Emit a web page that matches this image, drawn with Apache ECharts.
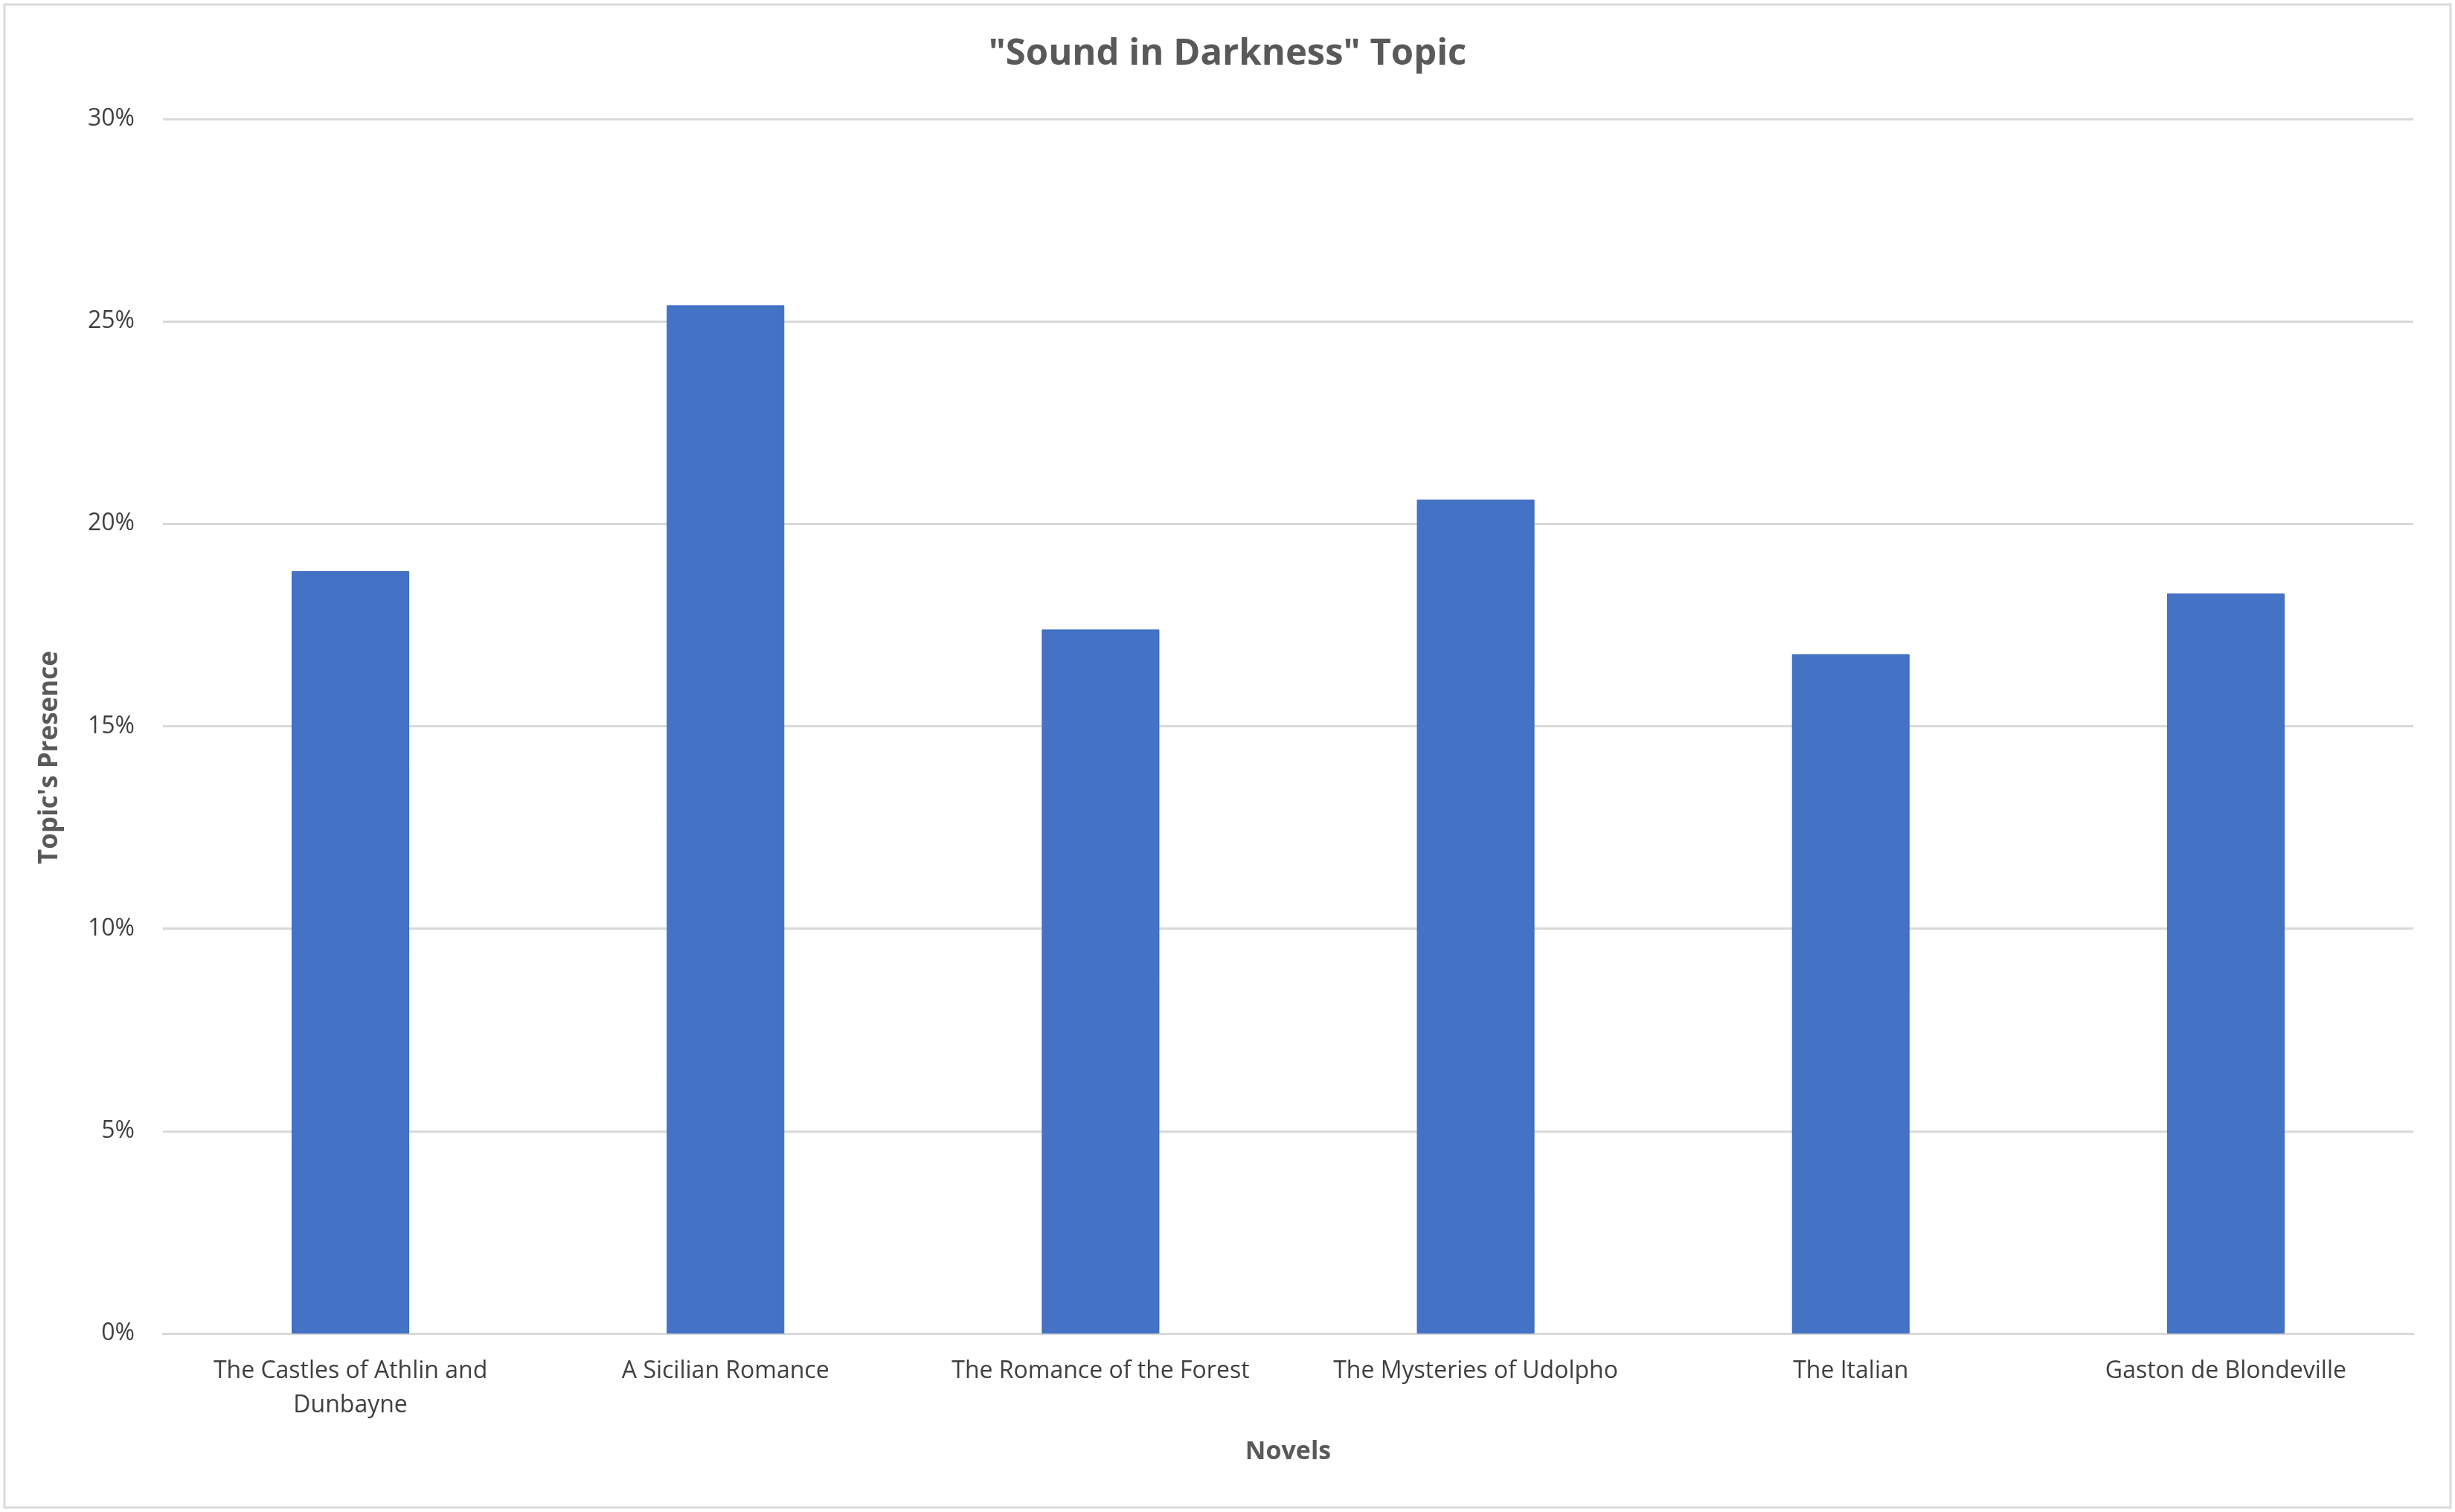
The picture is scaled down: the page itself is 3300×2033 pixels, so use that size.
<!DOCTYPE html>
<html>
<head>
<meta charset="utf-8">
<script src="https://cdn.jsdelivr.net/npm/echarts@6/dist/echarts.min.js"></script>
<style>
  html, body { margin: 0; padding: 0; background: #ffffff; }
  #chart { width: 3300px; height: 2033px; }
</style>
</head>
<body>
<div id="chart"></div>
<script>
// 小说名称
var novels = [
  'The Castles of Athlin and\nDunbayne',
  'A Sicilian Romance',
  'The Romance of the Forest',
  'The Mysteries of Udolpho',
  'The Italian',
  'Gaston de Blondeville'
];
// 主题占比 (%)
var presence = [18.83, 25.40, 17.39, 20.60, 16.78, 18.28];
// y轴刻度
var yTicks = [0, 5, 10, 15, 20, 25, 30];

var font = 'Open Sans';
var grey = '#595959';

var chart = echarts.init(document.getElementById('chart'), null, { renderer: 'canvas' });

var option = {
  backgroundColor: '#ffffff',
  animation: false,
  title: {
    text: '"Sound in Darkness" Topic',
    left: 'center',
    top: 44,
    textStyle: {
      color: grey,
      fontFamily: font,
      fontSize: 49,
      fontWeight: 'bold'
    }
  },
  // 图表外框
  graphic: [{
    type: 'rect',
    shape: { x: 6, y: 6, width: 3288, height: 2021 },
    style: { fill: 'none', stroke: '#d9d9d9', lineWidth: 3 },
    silent: true
  }],
  grid: {
    left: 219,
    right: 56,
    top: 160,
    bottom: 240
  },
  xAxis: {
    type: 'category',
    data: novels,
    name: 'Novels',
    nameLocation: 'middle',
    nameGap: 142,
    nameTextStyle: {
      color: grey,
      fontFamily: font,
      fontSize: 34,
      fontWeight: 'bold'
    },
    axisLine: { lineStyle: { color: '#d9d9d9', width: 3 } },
    axisTick: { show: false },
    axisLabel: {
      color: '#404040',
      fontFamily: font,
      fontSize: 32,
      lineHeight: 46,
      margin: 28,
      interval: 0
    }
  },
  yAxis: {
    type: 'value',
    min: yTicks[0],
    max: yTicks[yTicks.length - 1],
    interval: 5,
    name: "Topic's Presence",
    nameLocation: 'middle',
    nameRotate: 90,
    nameGap: 134,
    nameTextStyle: {
      color: grey,
      fontFamily: font,
      fontSize: 35,
      fontWeight: 'bold',
      padding: [0, 84, 0, 0]
    },
    axisLine: { show: false },
    axisTick: { show: false },
    axisLabel: {
      color: '#404040',
      fontFamily: font,
      fontSize: 32,
      margin: 38,
      formatter: '{value}%'
    },
    splitLine: { lineStyle: { color: '#d9d9d9', width: 3 } }
  },
  series: [{
    type: 'bar',
    data: presence,
    barWidth: 158,
    itemStyle: {
      color: '#4472c4',
      borderColor: '#3a68c0',
      borderWidth: 1
    }
  }]
};

chart.setOption(option);
</script>
</body>
</html>
